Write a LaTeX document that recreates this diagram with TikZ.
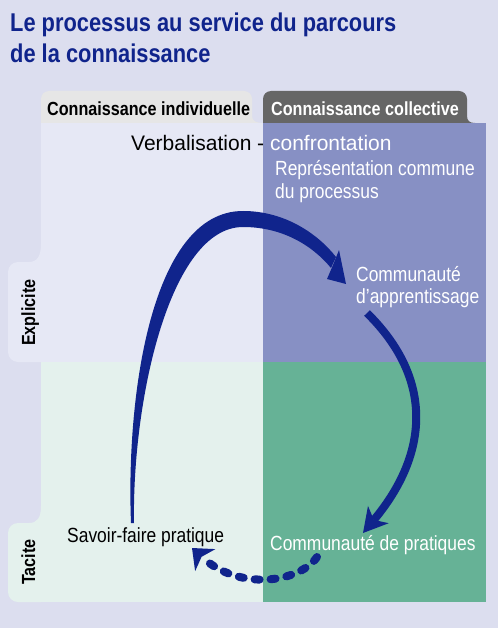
\documentclass[tikz,border=0pt]{standalone}
\usepackage{fontspec}
\setmainfont{Liberation Sans}
\newfontfamily\narrowfont{Liberation Sans}[FakeStretch=0.85]
\usetikzlibrary{arrows.meta}
\definecolor{page}{HTML}{DCDEEF}
\definecolor{ink}{HTML}{10248C}
\definecolor{explind}{HTML}{E6E8F5}
\definecolor{explcol}{HTML}{8790C4}
\definecolor{tacind}{HTML}{E4F1ED}
\definecolor{taccol}{HTML}{66B296}
\definecolor{tabind}{HTML}{E6E6E6}
\definecolor{tabcol}{HTML}{666666}

\begin{document}
\begin{tikzpicture}[x=1pt,y=-1pt,>=Stealth,
  titletxt/.style={font=\narrowfont\bfseries\fontsize{25.7}{30}\selectfont,text=ink,anchor=base west,inner sep=0pt},
  tabtxt/.style={font=\narrowfont\bfseries\fontsize{19}{22}\selectfont,anchor=base west,inner sep=0pt},
  narrowtxt/.style={font=\narrowfont\fontsize{20.5}{23}\selectfont,anchor=base west,inner sep=0pt},
  plaintxt/.style={font=\fontsize{21}{24}\selectfont,anchor=base west,inner sep=0pt},
  flow/.style={draw=ink,line width=8pt}]
\useasboundingbox (0,0) rectangle (498,628);
\fill[page] (0,0) rectangle (498,628);
\node[titletxt] (title1) at (10,31.5) {Le processus au service du parcours};
\node[titletxt] (title2) at (10,63) {de la connaissance};
% column tabs
\fill[tabind] (41,123) -- (41,99) arc (180:270:8) -- (244,91) arc (270:360:8) -- (252,116) .. controls (252,121) and (256,123) .. (263,123) -- cycle;
\fill[tabcol] (263,123) -- (263,99) arc (180:270:8) -- (459,91) arc (270:360:8) -- (467,116) .. controls (467,121) and (470,123) .. (475,123) -- cycle;
% the four quarters
\fill[explind] (41,123) rectangle (263,362);
\fill[explcol] (263,123) rectangle (486,362);
\fill[tacind] (41,362) rectangle (263,602);
\fill[taccol] (263,362) rectangle (486,602);
% row tabs
\fill[explind] (41,244) .. controls (41,256) and (37,262) .. (29,262) -- (18,262) arc (270:180:10) -- (8,352) arc (180:90:10) -- (41,362) -- cycle;
\fill[tacind] (41,506) .. controls (41,518) and (37,523) .. (29,523) -- (18,523) arc (270:180:10) -- (8,592) arc (180:90:10) -- (41,602) -- cycle;
\node[tabtxt] (ind) at (47,116) {Connaissance individuelle};
\node[tabtxt,text=white] (col) at (271,116) {Connaissance collective};
\node[tabtxt,rotate=90] (expl) at (35,346) {Explicite};
\node[tabtxt,rotate=90] (tac) at (35,585) {Tacite};
\node[plaintxt] (verb) at (131,151) {Verbalisation - \textcolor{white}{confrontation}};
\node[narrowtxt,text=white] (repr) at (275,176) {Représentation commune};
\node[narrowtxt,text=white] (proc) at (275,199) {du processus};
\node[narrowtxt,text=white] (comm) at (356,281) {Communauté};
\node[narrowtxt,text=white] (appr) at (356,303) {d’apprentissage};
\node[narrowtxt] (savoir) at (67,542) {Savoir-faire pratique};
\node[narrowtxt,text=white] (prat) at (270,550) {Communauté de pratiques};
% arrows
\coordinate (apprOut) at (367,313);
\coordinate (pratIn) at (363,533);
\coordinate (pratOut) at (317,557);
\coordinate (savoirIn) at (192,548);
\fill[ink] (131,523) .. controls (126,400) and (150,211) .. (243,211) .. controls (285,211) and (318,234) .. (336,257)
  -- (331,268) .. controls (312,245) and (282,227) .. (243,227) .. controls (170,227) and (132,400) .. (134,523) -- cycle;
\fill[ink] (327,279) -- (346,284) -- (339,250) -- (333,265) -- cycle;
\draw[flow,-{Stealth[length=24pt,width=27pt,inset=7pt,line width=0pt]}] (apprOut) .. controls +(68,67) and +(65,-78) .. (pratIn);
\draw[flow,line cap=round,dash pattern=on 5pt off 11pt,-{Stealth[length=18pt,width=30pt,inset=5pt,line width=0pt]}] (pratOut) .. controls +(-17,25) and +(48,44) .. (savoirIn);
\end{tikzpicture}
\end{document}
